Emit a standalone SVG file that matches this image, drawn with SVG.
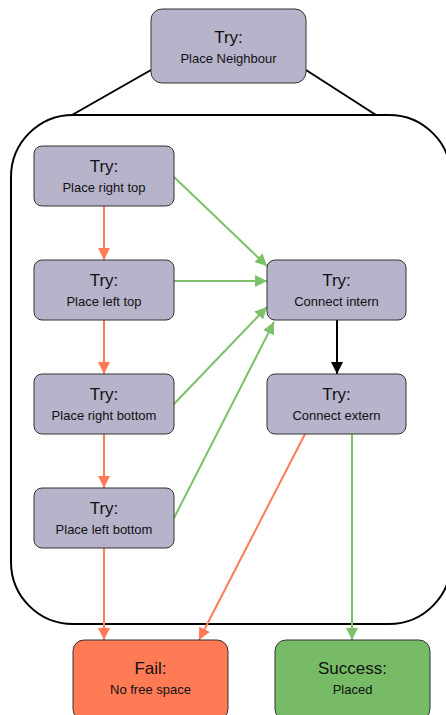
<svg xmlns="http://www.w3.org/2000/svg" width="446" height="715" viewBox="0 0 446 715">
<style>
.node rect{stroke:#333;stroke-width:1}
.try rect{fill:#b7b3cb}
.fail rect{fill:#fe7b56}
.succ rect{fill:#77bb66}
.t1{font-family:"Liberation Sans",Arial,sans-serif;font-size:17px;fill:#111;text-anchor:middle}
.t2{font-family:"Liberation Sans",Arial,sans-serif;font-size:13px;fill:#111;text-anchor:middle}
.red{stroke:#fe7b56;stroke-width:2;fill:none;marker-end:url(#mr)}
.grn{stroke:#7dc06a;stroke-width:2;fill:none;marker-end:url(#mg)}
.blk{stroke:#000;stroke-width:2;fill:none;marker-end:url(#mb)}
</style>
<defs>
<marker id="mr" markerUnits="userSpaceOnUse" markerWidth="12" markerHeight="12" viewBox="0 0 12 12" refX="12" refY="6" orient="auto"><path d="M0,0 L12,6 L0,12 z" fill="#fe7b56"/></marker>
<marker id="mg" markerUnits="userSpaceOnUse" markerWidth="12" markerHeight="12" viewBox="0 0 12 12" refX="12" refY="6" orient="auto"><path d="M0,0 L12,6 L0,12 z" fill="#7dc06a"/></marker>
<marker id="mb" markerUnits="userSpaceOnUse" markerWidth="12" markerHeight="12" viewBox="0 0 12 12" refX="12" refY="6" orient="auto"><path d="M0,0 L12,6 L0,12 z" fill="#000"/></marker>
</defs>
<rect width="446" height="715" fill="#fff"/>
<g id="container">
<rect x="11" y="115" width="440" height="509" rx="62" fill="none" stroke="#000" stroke-width="2"/>
<line x1="151" y1="70" x2="72" y2="115" stroke="#000" stroke-width="2"/>
<line x1="306" y1="70" x2="376" y2="115" stroke="#000" stroke-width="2"/>
</g>
<g id="connectors">
<line class="red" x1="104" y1="206" x2="104" y2="260"/>
<line class="red" x1="104" y1="320" x2="104" y2="374"/>
<line class="red" x1="104" y1="434" x2="104" y2="488"/>
<line class="red" x1="104" y1="548" x2="104" y2="640"/>
<line class="red" x1="305" y1="434" x2="199" y2="640"/>
<line class="grn" x1="352" y1="434" x2="352" y2="640"/>
<line class="blk" x1="337" y1="320" x2="337" y2="374"/>
<line class="grn" x1="174" y1="177" x2="267" y2="266"/>
<line class="grn" x1="174" y1="281" x2="267" y2="281"/>
<line class="grn" x1="174" y1="404" x2="267" y2="307"/>
<line class="grn" x1="174" y1="518" x2="274" y2="322"/>
</g>
<g id="place-neighbour" class="node try"><rect x="151" y="9" width="155" height="74" rx="11"/><text class="t1" x="228.5" y="43">Try:</text><text class="t2" x="228.5" y="63">Place Neighbour</text></g>
<g id="place-right-top" class="node try"><rect x="34" y="146" width="140" height="60" rx="8"/><text class="t1" x="104" y="172">Try:</text><text class="t2" x="104" y="192">Place right top</text></g>
<g id="place-left-top" class="node try"><rect x="34" y="260" width="140" height="60" rx="8"/><text class="t1" x="104" y="286">Try:</text><text class="t2" x="104" y="306">Place left top</text></g>
<g id="place-right-bottom" class="node try"><rect x="34" y="374" width="140" height="60" rx="8"/><text class="t1" x="104" y="400">Try:</text><text class="t2" x="104" y="420">Place right bottom</text></g>
<g id="place-left-bottom" class="node try"><rect x="34" y="488" width="140" height="60" rx="8"/><text class="t1" x="104" y="514">Try:</text><text class="t2" x="104" y="534">Place left bottom</text></g>
<g id="connect-intern" class="node try"><rect x="267" y="260" width="139" height="60" rx="8"/><text class="t1" x="336.5" y="286">Try:</text><text class="t2" x="336.5" y="306">Connect intern</text></g>
<g id="connect-extern" class="node try"><rect x="267" y="374" width="139" height="60" rx="8"/><text class="t1" x="336.5" y="400">Try:</text><text class="t2" x="336.5" y="420">Connect extern</text></g>
<g id="fail" class="node fail"><rect x="73" y="640" width="155" height="80" rx="11"/><text class="t1" x="150.5" y="674">Fail:</text><text class="t2" x="150.5" y="694">No free space</text></g>
<g id="success" class="node succ"><rect x="275" y="640" width="155" height="80" rx="11"/><text class="t1" x="352.5" y="674">Success:</text><text class="t2" x="352.5" y="694">Placed</text></g>
</svg>
